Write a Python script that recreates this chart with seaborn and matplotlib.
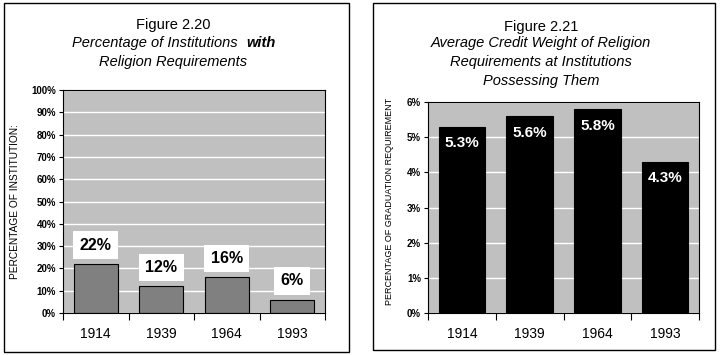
import matplotlib
matplotlib.use("Agg")
import matplotlib.pyplot as plt
import numpy as np
import pandas as pd
import seaborn as sns
from matplotlib.patches import Rectangle
from matplotlib.ticker import FixedLocator

years = ["1914", "1939", "1964", "1993"]
pct_institutions = [22, 12, 16, 6]
credit_weight = [5.3, 5.6, 5.8, 4.3]

W, H = 722, 355
plt.rcParams["font.family"] = ["Liberation Sans", "DejaVu Sans"]

fig = plt.figure(figsize=(W / 100, H / 100), dpi=100)


def fx(px):
  return px / W


def fy(py):
  return 1 - py / H


def frame(x0, y0, x1, y1):
  fig.add_artist(Rectangle((fx(x0), fy(y1)), fx(x1 - x0), (y1 - y0) / H,
                           transform=fig.transFigure, fill=False, lw=1, ec="black"))


def style_axes(ax, ymax, step, ylabel, ylabel_size):
  ticks = np.arange(0, ymax + step / 2, step)
  ax.set_facecolor("#C0C0C0")
  ax.set_ylim(0, ymax)
  ax.set_xlim(-0.5, 3.5)
  ax.yaxis.set_major_locator(FixedLocator(ticks))
  ax.set_yticklabels([f"{v:.0f}%" for v in ticks], fontsize=7, fontweight="bold")
  ax.grid(axis="y", color="white", lw=1)
  ax.grid(axis="x", visible=False)
  ax.set_axisbelow(True)
  ax.tick_params(axis="y", length=3, width=0.8, pad=2)
  ax.tick_params(axis="x", which="major", length=0, labelsize=10, pad=10)
  ax.xaxis.set_minor_locator(FixedLocator(np.arange(-0.5, 4, 1)))
  ax.tick_params(axis="x", which="minor", length=5, width=0.8)
  for s in ax.spines.values():
    s.set_color("black")
    s.set_linewidth(0.8)
  ax.set_xlabel("")
  ax.set_ylabel(ylabel, fontsize=ylabel_size)


# left panel
frame(4, 3, 349, 352)
df1 = pd.DataFrame({"year": years, "pct": pct_institutions})
ax1 = fig.add_axes([fx(63), fy(313), fx(325 - 63), (313 - 90) / H])
sns.barplot(data=df1, x="year", y="pct", ax=ax1, color="#808080", saturation=1,
            width=0.67, edgecolor="black", linewidth=0.8)
style_axes(ax1, 100, 10, "PERCENTAGE OF INSTITUTION:", 7.3)
ax1.yaxis.set_label_coords(-0.165, 0.5)
for i, v in enumerate(pct_institutions):
  ax1.annotate(f"{v}%", (i, v), xytext=(0, 13.5), textcoords="offset points",
               ha="center", va="center", fontsize=11.5, fontweight="bold",
               bbox=dict(boxstyle="square,pad=0.4", fc="white", ec="none"))

fig.text(fx(173), fy(25), "Figure 2.20", ha="center", va="center", fontsize=10.5)
fig.text(fx(238), fy(43), "Percentage of Institutions", ha="right", va="center",
         fontsize=10.5, style="italic")
fig.text(fx(246), fy(43), "with", ha="left", va="center",
         fontsize=10.5, style="italic", fontweight="bold")
fig.text(fx(173), fy(62), "Religion Requirements", ha="center", va="center",
         fontsize=10.5, style="italic")

# right panel
frame(373, 3, 715, 350)
df2 = pd.DataFrame({"year": years, "weight": credit_weight})
ax2 = fig.add_axes([fx(428), fy(313), fx(699 - 428), (313 - 102) / H])
sns.barplot(data=df2, x="year", y="weight", ax=ax2, color="black", saturation=1,
            width=0.69, edgecolor="black", linewidth=0.8)
style_axes(ax2, 6, 1, "PERCENTAGE OF GRADUATION REQUIREMENT", 6.5)
ax2.yaxis.set_label_coords(-0.125, 0.53)
for i, v in enumerate(credit_weight):
  ax2.annotate(f"{v}%", (i, v), xytext=(0, -12), textcoords="offset points",
               ha="center", va="center", fontsize=11, fontweight="bold", color="white")

fig.text(fx(541), fy(27), "Figure 2.21", ha="center", va="center", fontsize=10.5)
for yy, line in zip([43, 62, 81], ["Average Credit Weight of Religion",
                                   "Requirements at Institutions",
                                   "Possessing Them"]):
  fig.text(fx(541), fy(yy), line, ha="center", va="center", fontsize=10.5, style="italic")

fig.savefig("out.png", dpi=100)
